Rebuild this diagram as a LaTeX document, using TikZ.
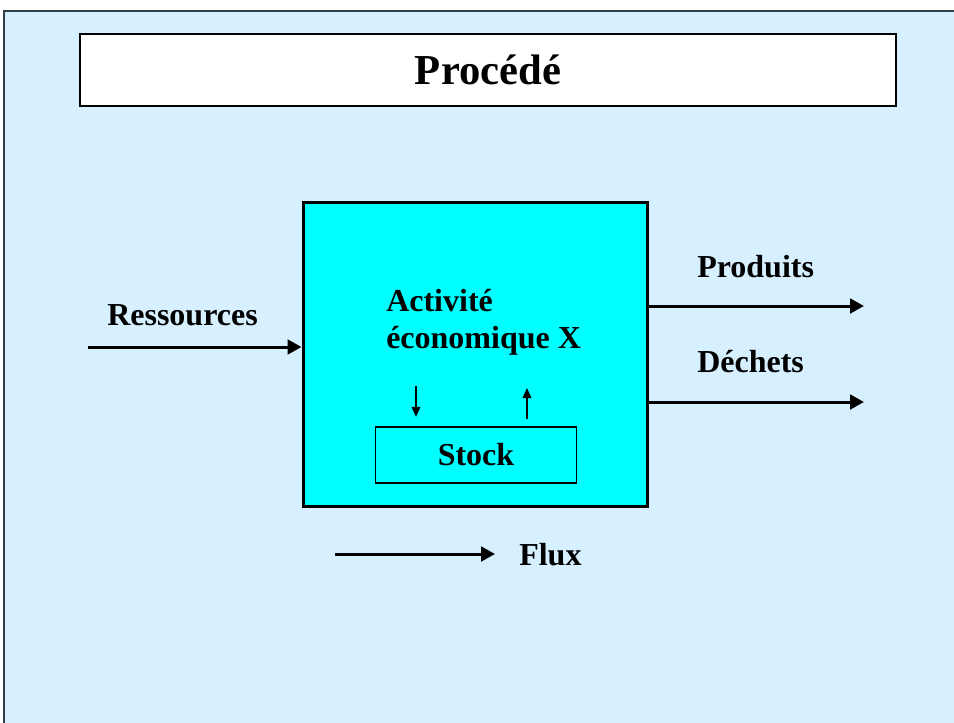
\documentclass[tikz,border=0pt]{standalone}
\usepackage{fontspec}
\setmainfont{Liberation Serif}
\usetikzlibrary{positioning, arrows.meta}
\definecolor{panelblue}{RGB}{214,240,255}
\definecolor{boxcyan}{RGB}{0,255,255}
\definecolor{bordgris}{RGB}{50,62,72}
\tikzstyle{titre}=[%
      rectangle, draw=black, line width=1.1pt, fill=white,
      minimum width=612pt, minimum height=54pt, inner sep=0pt,
      font=\fontsize{32}{38}\selectfont\bfseries
]
\tikzstyle{activite}=[%
      rectangle, draw=black, line width=2.25pt, fill=boxcyan,
      minimum width=258pt, minimum height=228pt, inner sep=0pt
]
\tikzstyle{stockbox}=[%
      rectangle, draw=black, line width=1.2pt, fill=boxcyan,
      minimum width=150.75pt, minimum height=42pt, inner sep=0pt,
      font=\fontsize{24}{28}\selectfont\bfseries
]
\tikzstyle{etiquette}=[%
      inner sep=0pt, font=\fontsize{24}{28}\selectfont\bfseries
]
\tikzstyle{flux}=[%
      line width=2.25pt, -{Triangle[length=10.5pt,width=11pt]}
]
\tikzstyle{petite}=[%
      line width=1.1pt, -{Triangle[length=7.5pt,width=6.5pt]}
]

\begin{document}
\begin{tikzpicture}[x=0.75pt, y=-0.75pt]
    \useasboundingbox (0,0) rectangle (954,722);
    % fond
    \fill[panelblue] (4,11) rectangle (960,730);
    \draw[bordgris, line width=1.5pt] (4,730) -- (4,11) -- (960,11);

    \node[titre]    (titre)    at (488,70)  {Proc\'ed\'e};
    \node[activite] (activite) at (475,354) {};
    \node[stockbox] (stock)    at (476,455) {Stock};
    \node[etiquette, align=left, anchor=north west] (texte) at (386,289)
          {Activit\'e\\\'economique X};

    \node[etiquette, anchor=base west] (ressources) at (107,325) {Ressources};
    \node[etiquette, anchor=base west] (produits)   at (697,277) {Produits};
    \node[etiquette, anchor=base west] (dechets)    at (697,372) {D\'echets};
    \node[etiquette, anchor=base west] (fluxlabel)  at (519,565) {Flux};

    \coordinate (entree)     at (88,347);
    \coordinate (produitsfin) at (864,306);
    \coordinate (dechetsfin)  at (864,402);
    \coordinate (fluxdebut)   at (335,554);
    \coordinate (versstock)   at (416,386);
    \coordinate (depuisstock) at (527,419);

    \draw[flux] (entree) -- (entree -| activite.west);
    \draw[flux] (produitsfin -| activite.east) -- (produitsfin);
    \draw[flux] (dechetsfin -| activite.east) -- (dechetsfin);
    \draw[flux, shorten >=24pt*0.75] (fluxdebut) -- (fluxdebut -| fluxlabel.west);

    \draw[petite] (versstock) -- ([yshift=7pt]versstock |- stock.north);
    \draw[petite] (depuisstock) -- ++(0,-31);
\end{tikzpicture}
\end{document}
